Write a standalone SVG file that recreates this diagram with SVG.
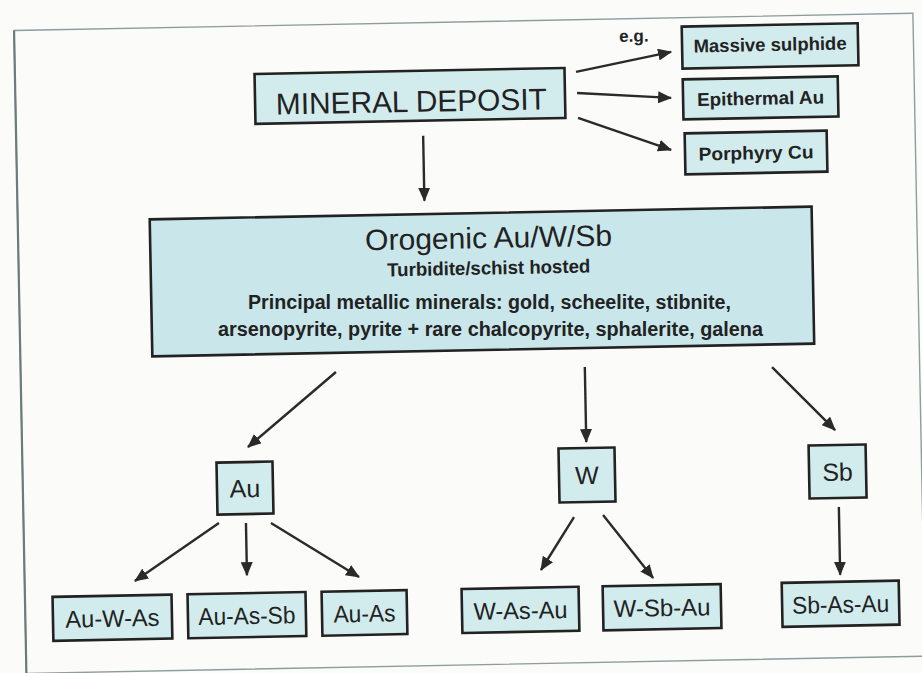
<svg xmlns="http://www.w3.org/2000/svg" width="922" height="673" viewBox="0 0 922 673">
<defs>
<marker id="ah" viewBox="0 0 14 12" refX="13" refY="6" markerWidth="14" markerHeight="12" markerUnits="userSpaceOnUse" orient="auto">
<path d="M0,0 L14,6 L0,12 z" fill="#2a2a2a"/>
</marker>
<style>
.box{fill:#d2ecee;stroke:#222;stroke-width:2.6}
.big{fill:#c9e7eb;stroke:#222;stroke-width:2.6}
.t{font-family:"Liberation Sans",Arial,Helvetica,sans-serif;fill:#222;text-anchor:middle}
.b{font-weight:bold}
.c{stroke:#2a2a2a;stroke-width:2.4;fill:none;marker-end:url(#ah)}
</style>
</defs>
<rect x="0" y="0" width="922" height="673" fill="#fbfbfa"/>
<g transform="rotate(-1.1 461 336)">
<rect id="frame" x="20" y="22" width="899" height="643" fill="none" stroke="#8e9c9c" stroke-width="1.4"/>
<line x1="20" y1="22" x2="20" y2="665" stroke="#6f7a7a" stroke-width="2.2"/>
<g id="connectors">
<line class="c" x1="581.1" y1="74.2" x2="676.5" y2="56"/>
<line class="c" x1="581.7" y1="95.2" x2="675.6" y2="102"/>
<line class="c" x1="582.2" y1="120.2" x2="674.6" y2="154"/>
<line class="c" x1="427" y1="135" x2="427" y2="200"/>
<line class="c" x1="335.3" y1="369.6" x2="245.9" y2="442.9"/>
<line class="c" x1="584.2" y1="369.4" x2="584.2" y2="444.4"/>
<line class="c" x1="771.4" y1="373" x2="833.2" y2="437.2"/>
<line class="c" x1="215.4" y1="518.4" x2="130.3" y2="574.7"/>
<line class="c" x1="242.4" y1="518.9" x2="242.4" y2="571"/>
<line class="c" x1="267.4" y1="519.4" x2="354.4" y2="575"/>
<line class="c" x1="570.5" y1="519.2" x2="536.5" y2="571.5"/>
<line class="c" x1="599.6" y1="517.7" x2="648.4" y2="581.7"/>
<line class="c" x1="835.5" y1="514.2" x2="835.5" y2="582"/>
</g>
<g id="eg"><text class="t b" x="639.6" y="45" font-size="17">e.g.</text></g>
<g id="mineral-deposit">
<rect class="box" x="259.6" y="70" width="310" height="50" stroke-width="3"/>
<text class="t" x="415.8" y="111" font-size="30" textLength="271" lengthAdjust="spacingAndGlyphs">MINERAL DEPOSIT</text>
</g>
<g id="massive-sulphide">
<rect class="box" x="687.6" y="30.9" width="176" height="42"/>
<text class="t b" x="775.6" y="57" font-size="18.5" textLength="153" lengthAdjust="spacingAndGlyphs">Massive sulphide</text>
</g>
<g id="epithermal-au">
<rect class="box" x="687.6" y="83.7" width="155" height="40"/>
<text class="t b" x="765.1" y="110.5" font-size="18.5" textLength="127" lengthAdjust="spacingAndGlyphs">Epithermal Au</text>
</g>
<g id="porphyry-cu">
<rect class="box" x="688.5" y="137.7" width="142" height="41"/>
<text class="t b" x="759.5" y="165" font-size="18.5" textLength="115" lengthAdjust="spacingAndGlyphs">Porphyry Cu</text>
</g>
<g id="orogenic">
<rect class="big" x="152" y="213.4" width="662" height="137"/>
<text class="t" x="490.5" y="248.5" font-size="29.5" textLength="247" lengthAdjust="spacingAndGlyphs">Orogenic Au/W/Sb</text>
<text class="t b" x="490" y="275" font-size="19" textLength="203" lengthAdjust="spacingAndGlyphs">Turbidite/schist hosted</text>
</g>
<g id="au">
<rect class="box" x="214.1" y="457.9" width="56" height="52"/>
<text class="t" x="242.1" y="493" font-size="25">Au</text>
</g>
<g id="w">
<rect class="box" x="556.3" y="450.4" width="56" height="54"/>
<text class="t" x="584.3" y="486.5" font-size="25">W</text>
</g>
<g id="sb">
<rect class="box" x="806.4" y="452.2" width="57" height="53"/>
<text class="t" x="834.9" y="488" font-size="25">Sb</text>
</g>
<g id="au-w-as">
<rect class="box" x="47.6" y="589" width="119" height="44"/>
<text class="t" x="107.1" y="620" font-size="24" textLength="94" lengthAdjust="spacingAndGlyphs">Au-W-As</text>
</g>
<g id="au-as-sb">
<rect class="box" x="182.6" y="589" width="118" height="44"/>
<text class="t" x="241.6" y="620" font-size="24" textLength="97" lengthAdjust="spacingAndGlyphs">Au-As-Sb</text>
</g>
<g id="au-as">
<rect class="box" x="316.7" y="589" width="85" height="44"/>
<text class="t" x="359.2" y="620" font-size="24" textLength="62" lengthAdjust="spacingAndGlyphs">Au-As</text>
</g>
<g id="w-as-au">
<rect class="box" x="456.7" y="589" width="117" height="44"/>
<text class="t" x="515.2" y="620" font-size="24" textLength="94" lengthAdjust="spacingAndGlyphs">W-As-Au</text>
</g>
<g id="w-sb-au">
<rect class="box" x="597.8" y="589" width="118" height="44"/>
<text class="t" x="656.8" y="620" font-size="24" textLength="97" lengthAdjust="spacingAndGlyphs">W-Sb-Au</text>
</g>
<g id="sb-as-au">
<rect class="box" x="776.9" y="589" width="117" height="44"/>
<text class="t" x="835.4" y="620" font-size="24" textLength="97" lengthAdjust="spacingAndGlyphs">Sb-As-Au</text>
</g>
</g>
<g id="orogenic-minerals">
<text class="t b" x="489.5" y="309" font-size="19.5" textLength="483" lengthAdjust="spacingAndGlyphs">Principal metallic minerals: gold, scheelite, stibnite,</text>
<text class="t b" x="490.5" y="335.5" font-size="19.5" textLength="545" lengthAdjust="spacingAndGlyphs">arsenopyrite, pyrite + rare chalcopyrite, sphalerite, galena</text>
</g>
</svg>
